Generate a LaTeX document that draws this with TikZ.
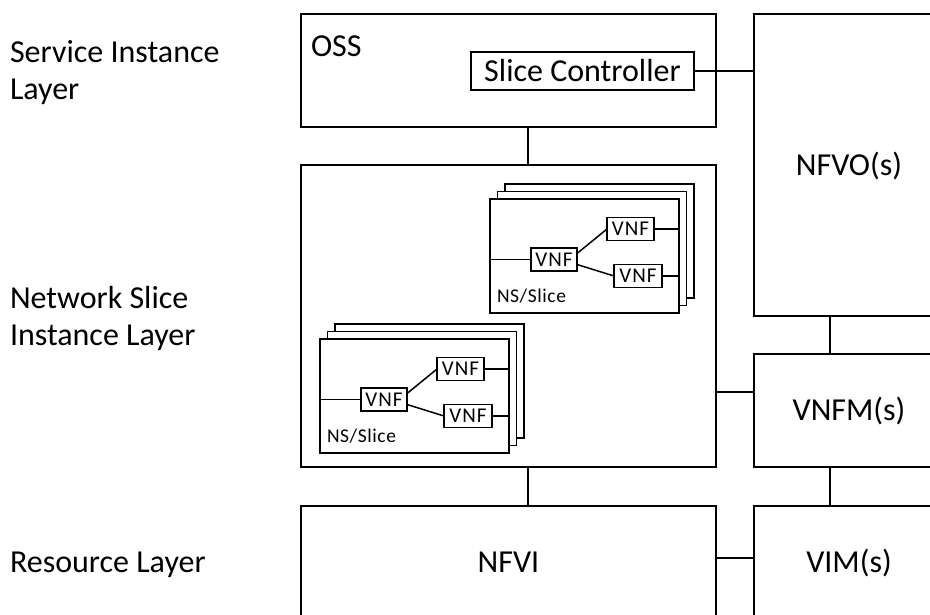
\documentclass[tikz,border=0pt]{standalone}
\usepackage{fontspec}
\setmainfont{Carlito}
\newfontfamily\vnffont[LetterSpace=5]{Carlito}
\newfontfamily\nsfont[LetterSpace=3]{Carlito}
\newcommand\slicestack[2]{%
  \begin{scope}[shift={#2}]
    \node[stackbox] (#1f3) at (15,-15) {};
    \node[stackbox] (#1f2) at (7.5,-7.5) {};
    \node[stackbox] (#1f) at (0,0) {};
    \node[vnfbox, minimum width=46pt] (#1a) at (64,60.5) {VNF};
    \node[vnfbox, minimum width=47pt] (#1b) at (140.5,30) {VNF};
    \node[vnfbox, minimum width=48pt] (#1c) at (148,77) {VNF};
    \node[anchor=base west, font=\nsfont\fontsize{19.5}{22}\selectfont] (#1t) at (7,103) {NS/Slice};
    \draw[thinline] (#1a.west) -- (#1a.west -| #1f.west);
    \draw[thinline] ([yshift=6pt]#1a.east) -- (#1b.west);
    \draw[thinline] ([yshift=-5pt]#1a.east) -- (#1c.west);
    \draw[thinline] (#1b.east) -- (#1b.east -| #1f.east);
    \draw[thinline] (#1c.east) -- (#1c.east -| #1f.east);
  \end{scope}}
\begin{document}
\begin{tikzpicture}[x=1pt,y=-1pt,
  every node/.style={inner sep=0pt, outer sep=0pt},
  bigbox/.style={draw, line width=1.5pt, anchor=north west,
    font=\fontsize{32}{37}\selectfont, text height=20.5pt, text depth=0pt},
  lbl/.style={font=\fontsize{32}{37}\selectfont},
  conn/.style={line width=1.5pt},
  stackbox/.style={draw, line width=1.5pt, fill=white, anchor=north west,
    minimum width=189pt, minimum height=114pt},
  vnfbox/.style={draw, line width=1.5pt, fill=white, minimum height=23pt,
    font=\vnffont\fontsize{21}{24}\selectfont, text height=13.5pt, text depth=0pt},
  thinline/.style={line width=1.5pt}]
\useasboundingbox (0,0) rectangle (930,615);
\clip (0,0) rectangle (930,615);
\fill[white] (0,0) rectangle (930,615);

% left labels
\node[lbl, anchor=base west, align=left] (lay1) at (10,100) {Service Instance\\Layer};
\node[lbl, anchor=base west, align=left] (lay2) at (10,345) {Network Slice\\Instance Layer};
\node[lbl, anchor=base west] (lay3) at (10,572) {Resource Layer};

% main boxes
\node[bigbox, minimum width=415pt, minimum height=113pt] (oss) at (301,14) {};
\node[lbl, anchor=base west] (osst) at (311,57) {OSS};
\node[draw, line width=1.5pt, minimum width=223pt, minimum height=38pt,
  font=\fontsize{32}{37}\selectfont, text height=20.5pt, text depth=0pt] (sc) at (582.5,71) {Slice Controller};
\node[bigbox, minimum width=415pt, minimum height=302pt] (nsi) at (301,165) {};
\node[bigbox, minimum width=190pt, minimum height=302pt] (nfvo) at (754,14) {NFVO(s)};
\node[bigbox, minimum width=190pt, minimum height=113pt] (vnfm) at (754,354) {VNFM(s)};
\node[bigbox, minimum width=415pt, minimum height=113pt] (nfvi) at (301,506) {NFVI};
\node[bigbox, minimum width=190pt, minimum height=113pt] (vim) at (754,506) {VIM(s)};

% slice stacks
\slicestack{u}{(490,199)}
\slicestack{l}{(320,339)}

% connectors
\draw[conn] (sc.east) -- (sc.east -| nfvo.west);
\draw[conn] ([xshift=227pt]oss.south west) -- ([xshift=227pt]nsi.north west);
\draw[conn] ([xshift=227pt]nsi.south west) -- ([xshift=227pt]nfvi.north west);
\draw[conn] ([xshift=76pt]nfvo.south west) -- ([xshift=76pt]vnfm.north west);
\draw[conn] ([xshift=76pt]vnfm.south west) -- ([xshift=76pt]vim.north west);
\draw[conn] ([yshift=-38pt]vnfm.north west) -- ([yshift=-227pt]nsi.north east);
\draw[conn] ([yshift=-52pt]vim.north west) -- ([yshift=-52pt]nfvi.north east);
\end{tikzpicture}
\end{document}
